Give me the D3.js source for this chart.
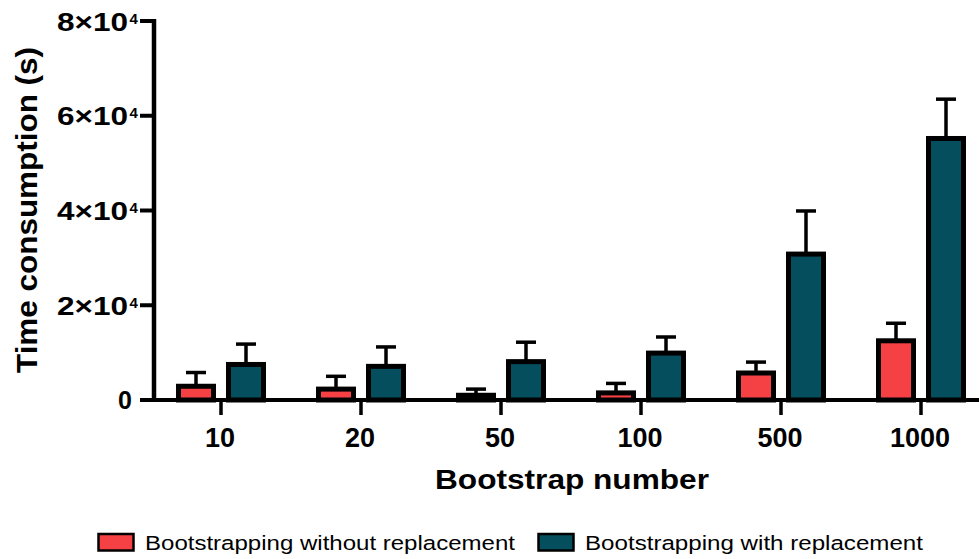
<!DOCTYPE html>
<html>
<head>
<meta charset="utf-8">
<script src="https://cdn.jsdelivr.net/npm/d3@7"></script>
<style>
  html, body { margin: 0; padding: 0; background: #ffffff; }
  svg { display: block; font-family: "Liberation Sans", Arial, sans-serif; }
</style>
</head>
<body>
<svg id="chart" width="979" height="559"></svg>
<script>
// Bootstrap counts on the x axis
const categories = ["10", "20", "50", "100", "500", "1000"];
const seriesNames = ["Bootstrapping without replacement", "Bootstrapping with replacement"];
const seriesColors = ["#F54144", "#044E5E"];

// Mean time consumption (s) and upper error (SD) for each series
const withoutMean = [2900, 2300, 1000, 1500, 5700, 12500];
const withoutErr  = [2900, 2700, 1300, 2000, 2300, 3700];
const withMean    = [7500, 7100, 8100, 9900, 30800, 55200];
const withErr     = [4300, 4100, 4100, 3400, 9100, 8300];

// Y tick values with their mantissa/exponent labels
const yTicks = [0, 20000, 40000, 60000, 80000];
const yTickMantissa = ["0", "2×10", "4×10", "6×10", "8×10"];
const yTickExponent = ["", "4", "4", "4", "4"];

const svg = d3.select("#chart");

const x0 = d3.scaleBand().domain(categories).range([151, 991]);
const x1 = d3.scaleBand().domain(seriesNames).range([20, 120]);
const y = d3.scaleLinear().domain([0, 80000]).range([400, 21]);
const color = d3.scaleOrdinal().domain(seriesNames).range(seriesColors);

const barW = 35;

const rows = [];
categories.forEach((c, i) => {
  rows.push({ cat: c, series: seriesNames[0], mean: withoutMean[i], err: withoutErr[i] });
  rows.push({ cat: c, series: seriesNames[1], mean: withMean[i], err: withErr[i] });
});
const cx = d => x0(d.cat) + x1(d.series) + x1.bandwidth() / 2;

// Error bars (upper only)
const eb = svg.append("g");
eb.selectAll("line.stem").data(rows).join("line")
  .attr("x1", cx).attr("x2", cx)
  .attr("y1", d => y(d.mean)).attr("y2", d => y(d.mean + d.err))
  .attr("stroke", "#000").attr("stroke-width", 3.5);
eb.selectAll("line.cap").data(rows).join("line")
  .attr("x1", d => cx(d) - 10).attr("x2", d => cx(d) + 10)
  .attr("y1", d => y(d.mean + d.err)).attr("y2", d => y(d.mean + d.err))
  .attr("stroke", "#000").attr("stroke-width", 3.5);

// Bars
svg.append("g").selectAll("rect").data(rows).join("rect")
  .attr("x", d => cx(d) - barW / 2)
  .attr("width", barW)
  .attr("y", d => y(d.mean))
  .attr("height", d => y(0) - y(d.mean))
  .attr("fill", d => color(d.series))
  .attr("stroke", "#000")
  .attr("stroke-width", 5);

// Y axis
const yAxis = svg.append("g");
yAxis.append("line")
  .attr("x1", 154).attr("x2", 154)
  .attr("y1", y(80000) - 2).attr("y2", y(0) + 2)
  .attr("stroke", "#000").attr("stroke-width", 4.5);
yAxis.selectAll("line.tick").data(yTicks).join("line")
  .attr("x1", 140).attr("x2", 154)
  .attr("y1", d => y(d)).attr("y2", d => y(d))
  .attr("stroke", "#000").attr("stroke-width", 4);
yTicks.forEach((v, i) => {
  const ty = y(v);
  if (yTickExponent[i]) {
    yAxis.append("text")
      .attr("x", 57).attr("y", ty + 9.5)
      .attr("font-size", 25).attr("font-weight", "bold")
      .attr("textLength", 71).attr("lengthAdjust", "spacingAndGlyphs")
      .text(yTickMantissa[i]);
    yAxis.append("text")
      .attr("x", 129.5).attr("y", ty + 2.5)
      .attr("font-size", 15).attr("font-weight", "bold")
      .text(yTickExponent[i]);
  } else {
    yAxis.append("text")
      .attr("x", 132).attr("y", ty + 8.5)
      .attr("text-anchor", "end")
      .attr("font-size", 25).attr("font-weight", "bold")
      .text(yTickMantissa[i]);
  }
});

// X axis
const xAxis = svg.append("g");
xAxis.append("line")
  .attr("x1", 140).attr("x2", 979)
  .attr("y1", y(0)).attr("y2", y(0))
  .attr("stroke", "#000").attr("stroke-width", 4);
xAxis.selectAll("line.tick").data(categories).join("line")
  .attr("x1", d => x0(d) + x0.bandwidth() / 2).attr("x2", d => x0(d) + x0.bandwidth() / 2)
  .attr("y1", y(0)).attr("y2", y(0) + 15)
  .attr("stroke", "#000").attr("stroke-width", 3.5);
xAxis.selectAll("text").data(categories).join("text")
  .attr("x", d => x0(d) + x0.bandwidth() / 2 - 1)
  .attr("y", 446.5)
  .attr("text-anchor", "middle")
  .attr("font-size", 27).attr("font-weight", "bold")
  .text(d => d);

// Axis titles
svg.append("text")
  .attr("x", 572).attr("y", 488.5)
  .attr("text-anchor", "middle")
  .attr("font-size", 28).attr("font-weight", "bold")
  .attr("textLength", 274).attr("lengthAdjust", "spacingAndGlyphs")
  .text("Bootstrap number");
svg.append("text")
  .attr("transform", "translate(37,210) rotate(-90)")
  .attr("text-anchor", "middle")
  .attr("font-size", 30).attr("font-weight", "bold")
  .attr("textLength", 326).attr("lengthAdjust", "spacingAndGlyphs")
  .text("Time consumption (s)");

// Legend
const legendX = [98.5, 538.5];
const legendTextLen = [370, 338];
const legend = svg.append("g");
seriesNames.forEach((s, i) => {
  legend.append("rect")
    .attr("x", legendX[i]).attr("y", 534)
    .attr("width", 35).attr("height", 16.5)
    .attr("fill", color(s)).attr("stroke", "#000").attr("stroke-width", 2.5);
  legend.append("text")
    .attr("x", legendX[i] + 46.5).attr("y", 549.5)
    .attr("font-size", 20.5)
    .attr("textLength", legendTextLen[i]).attr("lengthAdjust", "spacingAndGlyphs")
    .text(s);
});
</script>
</body>
</html>
